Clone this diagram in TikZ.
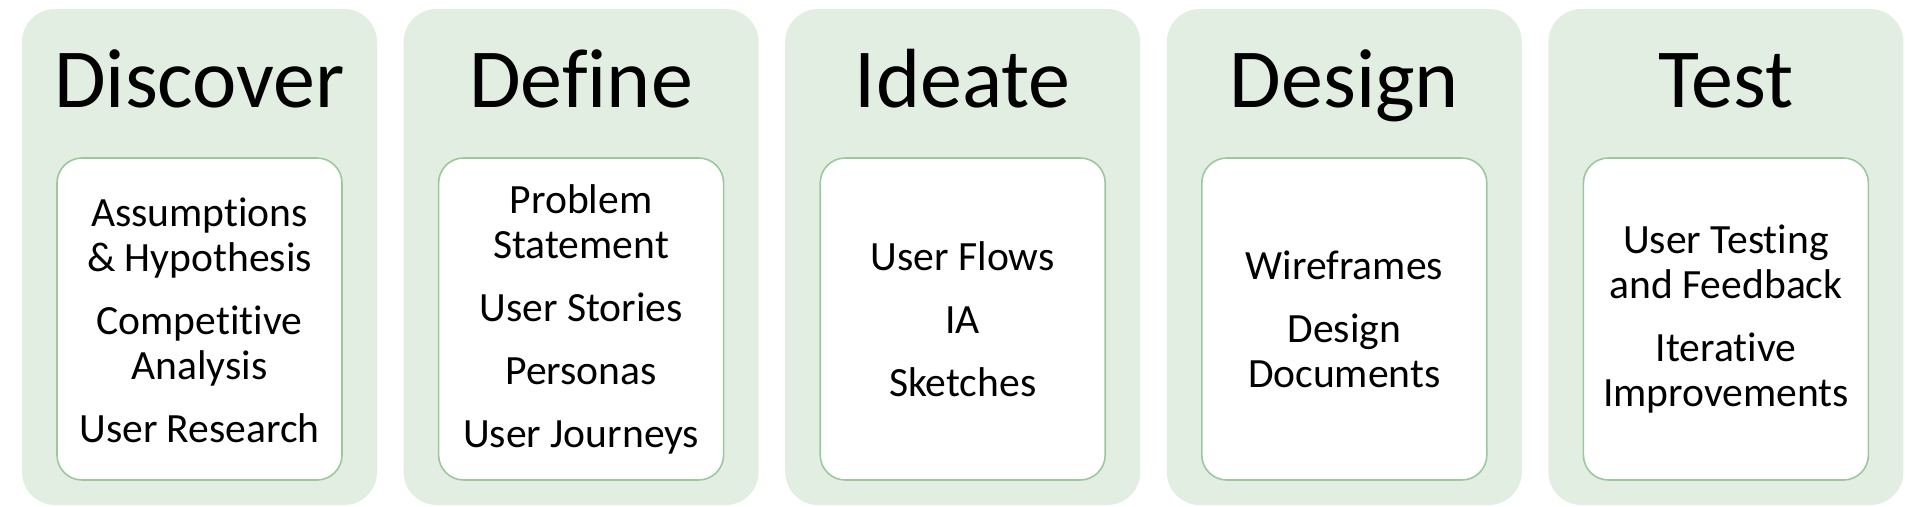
\documentclass[tikz,border=0pt]{standalone}
\usepackage{fontspec}
\setmainfont{Carlito}[Ligatures={NoCommon,NoRequired,NoContextual}, RawFeature={-liga;-clig;-dlig;-calt}]
\definecolor{outerfill}{RGB}{226,238,226}
\definecolor{innerline}{RGB}{157,200,157}
\tikzset{
  phase/.style={fill=outerfill, draw=none, rounded corners=33pt, minimum width=355pt, minimum height=496pt, inner sep=0pt},
  itembox/.style={fill=white, draw=innerline, line width=1.6pt, rounded corners=25pt, minimum width=285pt, minimum height=322pt, inner sep=0pt},
  phasetitle/.style={anchor=base, font=\fontsize{84}{90}\selectfont, text=black, inner sep=0pt},
  items/.style={anchor=center, align=center, font=\fontsize{41.6}{45}\selectfont, text=black, inner sep=0pt}
}
\begin{document}
\begin{tikzpicture}[x=1pt,y=-1pt]
\useasboundingbox (0,0) rectangle (1905,506);
\foreach \i/\nm in {0/a,1/b,2/c,3/d,4/e}{
  \node[phase] (o\nm) at ({199.5+381.6*\i},257) {};
  \node[itembox] (b\nm) at ({199.5+381.6*\i},319) {};
}
\node[phasetitle] (ta) at (199.5,107) {Discover};
\node[phasetitle] (tb) at (581.1,107) {Define};
\node[phasetitle] (tc) at (962.7,107) {Ideate};
\node[phasetitle] (td) at (1344.3,107) {Design};
\node[phasetitle] (te) at (1725.9,107) {Test};
\node[items] (ia) at ([yshift=-1pt]ba.center) {Assumptions\\ \& Hypothesis\\[18pt] Competitive\\ Analysis\\[18pt] User Research};
\node[items] (ib) at (bb.center) {Problem\\ Statement\\[18pt] User Stories\\[18pt] Personas\\[18pt] User Journeys};
\node[items] (ic) at (bc.center) {User Flows\\[18pt] IA\\[18pt] Sketches};
\node[items] (id) at (bd.center) {Wireframes\\[18pt] Design\\ Documents};
\node[items] (ie) at (be.center) {User Testing\\ and Feedback\\[18pt] Iterative\\ Improvements};
\end{tikzpicture}
\end{document}
